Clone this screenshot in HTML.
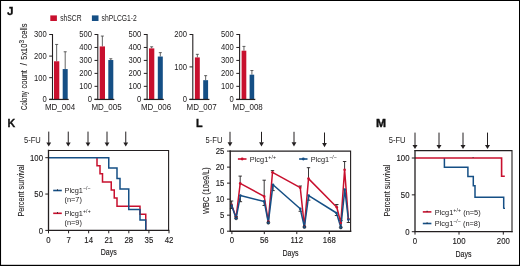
<!DOCTYPE html>
<html lang="en">
<head>
<meta charset="utf-8">
<title>Figure panels J-M</title>
<style>
html,body{margin:0;padding:0;background:#fff;}
body{width:520px;height:266px;overflow:hidden;}
svg{display:block;font-family:"Liberation Sans", "DejaVu Sans", sans-serif;}
</style>
</head>
<body>
<svg width="520" height="266" viewBox="0 0 520 266" role="img" aria-label="Figure panels J to M">
<rect x="0" y="0" width="520" height="266" fill="#ffffff"/>
<rect x="0.00" y="0.00" width="520.00" height="1.00" fill="#000"/>
<rect x="0.00" y="0.00" width="1.05" height="266.00" fill="#000"/>
<rect x="519.00" y="0.00" width="1.00" height="266.00" fill="#000"/>
<rect x="0.00" y="264.80" width="520.00" height="1.20" fill="#000"/>
<text x="6.9" y="15.4" font-size="11.7" text-anchor="start" font-weight="bold" fill="#111" stroke="#111" stroke-width="0.3">J</text>
<text x="7.5" y="126.5" font-size="10.7" text-anchor="start" font-weight="bold" fill="#111" stroke="#111" stroke-width="0.3">K</text>
<text x="196.0" y="126.9" font-size="10.8" text-anchor="start" font-weight="bold" fill="#111" stroke="#111" stroke-width="0.35">L</text>
<text transform="translate(375.9,126.9) scale(1.14,1)" font-size="10.6" text-anchor="start" font-weight="bold" fill="#111" stroke="#111" stroke-width="0.35">M</text>
<rect x="50.30" y="15.40" width="6.60" height="5.60" fill="#c8102e"/>
<text transform="translate(60.2,21.0) scale(0.795,1)" font-size="8.5" text-anchor="start" font-weight="normal" fill="#1c1a1b" >shSCR</text>
<rect x="91.90" y="15.40" width="6.60" height="5.60" fill="#154f85"/>
<text transform="translate(101.6,21.0) scale(0.795,1)" font-size="8.5" text-anchor="start" font-weight="normal" fill="#1c1a1b" >shPLCG1-2</text>
<g transform="translate(27.4,66.6) rotate(-90)" font-size="9" fill="#1c1a1b" stroke="#1c1a1b" stroke-width="0.1"><text x="-43.3" y="0" textLength="18.6" lengthAdjust="spacingAndGlyphs">Colony</text><text x="-21.9" y="0" textLength="18.4" lengthAdjust="spacingAndGlyphs">count</text><text x="1.0" y="0" font-size="8.6">/</text><text x="6.9" y="0" textLength="16.0" lengthAdjust="spacingAndGlyphs">5x10</text><text x="23.1" y="-3.0" font-size="6.4" textLength="3.6" lengthAdjust="spacingAndGlyphs">3</text><text x="28.0" y="0" textLength="15.2" lengthAdjust="spacingAndGlyphs">cells</text></g>
<line x1="56.65" y1="44.44" x2="56.65" y2="61.28" stroke="#3c3c3c" stroke-width="0.8" />
<line x1="55.15" y1="44.44" x2="58.15" y2="44.44" stroke="#3c3c3c" stroke-width="0.8" />
<line x1="65.20" y1="51.78" x2="65.20" y2="69.06" stroke="#3c3c3c" stroke-width="0.8" />
<line x1="63.70" y1="51.78" x2="66.70" y2="51.78" stroke="#3c3c3c" stroke-width="0.8" />
<rect x="54.00" y="61.28" width="5.30" height="38.02" fill="#c8102e"/>
<rect x="62.70" y="69.06" width="5.00" height="30.24" fill="#154f85"/>
<line x1="52.5" y1="34.0" x2="52.5" y2="99.8" stroke="#231f20" stroke-width="1.1" />
<line x1="49.2" y1="99.45" x2="68.7" y2="99.45" stroke="#231f20" stroke-width="1.2" />
<line x1="49.2" y1="99.30" x2="52.5" y2="99.30" stroke="#231f20" stroke-width="1.0" />
<text transform="translate(46.70,102.20) scale(0.93,1)" font-size="8.2" text-anchor="end" font-weight="normal" fill="#1c1a1b" >0</text>
<line x1="49.2" y1="77.70" x2="52.5" y2="77.70" stroke="#231f20" stroke-width="1.0" />
<text transform="translate(46.70,80.60) scale(0.93,1)" font-size="8.2" text-anchor="end" font-weight="normal" fill="#1c1a1b" >100</text>
<line x1="49.2" y1="56.10" x2="52.5" y2="56.10" stroke="#231f20" stroke-width="1.0" />
<text transform="translate(46.70,59.00) scale(0.93,1)" font-size="8.2" text-anchor="end" font-weight="normal" fill="#1c1a1b" >200</text>
<line x1="49.2" y1="34.50" x2="52.5" y2="34.50" stroke="#231f20" stroke-width="1.0" />
<text transform="translate(46.70,37.40) scale(0.93,1)" font-size="8.2" text-anchor="end" font-weight="normal" fill="#1c1a1b" >300</text>
<text transform="translate(60.0,109.7) scale(0.93,1)" font-size="8.6" text-anchor="middle" font-weight="normal" fill="#1c1a1b" >MD_004</text>
<line x1="102.35" y1="36.06" x2="102.35" y2="46.42" stroke="#3c3c3c" stroke-width="0.8" />
<line x1="100.85" y1="36.06" x2="103.85" y2="36.06" stroke="#3c3c3c" stroke-width="0.8" />
<line x1="110.80" y1="58.74" x2="110.80" y2="60.03" stroke="#3c3c3c" stroke-width="0.8" />
<line x1="109.30" y1="58.74" x2="112.30" y2="58.74" stroke="#3c3c3c" stroke-width="0.8" />
<rect x="99.70" y="46.42" width="5.30" height="52.88" fill="#c8102e"/>
<rect x="108.30" y="60.03" width="5.00" height="39.27" fill="#154f85"/>
<line x1="97.8" y1="34.0" x2="97.8" y2="99.8" stroke="#231f20" stroke-width="1.1" />
<line x1="94.5" y1="99.45" x2="114.3" y2="99.45" stroke="#231f20" stroke-width="1.2" />
<line x1="94.5" y1="99.30" x2="97.8" y2="99.30" stroke="#231f20" stroke-width="1.0" />
<text transform="translate(92.00,102.20) scale(0.93,1)" font-size="8.2" text-anchor="end" font-weight="normal" fill="#1c1a1b" >0</text>
<line x1="94.5" y1="86.34" x2="97.8" y2="86.34" stroke="#231f20" stroke-width="1.0" />
<text transform="translate(92.00,89.24) scale(0.93,1)" font-size="8.2" text-anchor="end" font-weight="normal" fill="#1c1a1b" >100</text>
<line x1="94.5" y1="73.38" x2="97.8" y2="73.38" stroke="#231f20" stroke-width="1.0" />
<text transform="translate(92.00,76.28) scale(0.93,1)" font-size="8.2" text-anchor="end" font-weight="normal" fill="#1c1a1b" >200</text>
<line x1="94.5" y1="60.42" x2="97.8" y2="60.42" stroke="#231f20" stroke-width="1.0" />
<text transform="translate(92.00,63.32) scale(0.93,1)" font-size="8.2" text-anchor="end" font-weight="normal" fill="#1c1a1b" >300</text>
<line x1="94.5" y1="47.46" x2="97.8" y2="47.46" stroke="#231f20" stroke-width="1.0" />
<text transform="translate(92.00,50.36) scale(0.93,1)" font-size="8.2" text-anchor="end" font-weight="normal" fill="#1c1a1b" >400</text>
<line x1="94.5" y1="34.50" x2="97.8" y2="34.50" stroke="#231f20" stroke-width="1.0" />
<text transform="translate(92.00,37.40) scale(0.93,1)" font-size="8.2" text-anchor="end" font-weight="normal" fill="#1c1a1b" >500</text>
<text transform="translate(106.5,109.7) scale(0.93,1)" font-size="8.6" text-anchor="middle" font-weight="normal" fill="#1c1a1b" >MD_005</text>
<line x1="151.65" y1="46.81" x2="151.65" y2="48.37" stroke="#3c3c3c" stroke-width="0.8" />
<line x1="150.15" y1="46.81" x2="153.15" y2="46.81" stroke="#3c3c3c" stroke-width="0.8" />
<line x1="160.30" y1="52.64" x2="160.30" y2="56.53" stroke="#3c3c3c" stroke-width="0.8" />
<line x1="158.80" y1="52.64" x2="161.80" y2="52.64" stroke="#3c3c3c" stroke-width="0.8" />
<rect x="149.00" y="48.37" width="5.30" height="50.93" fill="#c8102e"/>
<rect x="157.80" y="56.53" width="5.00" height="42.77" fill="#154f85"/>
<line x1="147.1" y1="34.0" x2="147.1" y2="99.8" stroke="#231f20" stroke-width="1.1" />
<line x1="143.8" y1="99.45" x2="163.8" y2="99.45" stroke="#231f20" stroke-width="1.2" />
<line x1="143.79999999999998" y1="99.30" x2="147.1" y2="99.30" stroke="#231f20" stroke-width="1.0" />
<text transform="translate(141.30,102.20) scale(0.93,1)" font-size="8.2" text-anchor="end" font-weight="normal" fill="#1c1a1b" >0</text>
<line x1="143.79999999999998" y1="86.34" x2="147.1" y2="86.34" stroke="#231f20" stroke-width="1.0" />
<text transform="translate(141.30,89.24) scale(0.93,1)" font-size="8.2" text-anchor="end" font-weight="normal" fill="#1c1a1b" >100</text>
<line x1="143.79999999999998" y1="73.38" x2="147.1" y2="73.38" stroke="#231f20" stroke-width="1.0" />
<text transform="translate(141.30,76.28) scale(0.93,1)" font-size="8.2" text-anchor="end" font-weight="normal" fill="#1c1a1b" >200</text>
<line x1="143.79999999999998" y1="60.42" x2="147.1" y2="60.42" stroke="#231f20" stroke-width="1.0" />
<text transform="translate(141.30,63.32) scale(0.93,1)" font-size="8.2" text-anchor="end" font-weight="normal" fill="#1c1a1b" >300</text>
<line x1="143.79999999999998" y1="47.46" x2="147.1" y2="47.46" stroke="#231f20" stroke-width="1.0" />
<text transform="translate(141.30,50.36) scale(0.93,1)" font-size="8.2" text-anchor="end" font-weight="normal" fill="#1c1a1b" >400</text>
<line x1="143.79999999999998" y1="34.50" x2="147.1" y2="34.50" stroke="#231f20" stroke-width="1.0" />
<text transform="translate(141.30,37.40) scale(0.93,1)" font-size="8.2" text-anchor="end" font-weight="normal" fill="#1c1a1b" >500</text>
<text transform="translate(156.0,109.7) scale(0.93,1)" font-size="8.6" text-anchor="middle" font-weight="normal" fill="#1c1a1b" >MD_006</text>
<line x1="197.35" y1="54.33" x2="197.35" y2="57.41" stroke="#3c3c3c" stroke-width="0.8" />
<line x1="195.85" y1="54.33" x2="198.85" y2="54.33" stroke="#3c3c3c" stroke-width="0.8" />
<line x1="205.65" y1="75.65" x2="205.65" y2="80.18" stroke="#3c3c3c" stroke-width="0.8" />
<line x1="204.15" y1="75.65" x2="207.15" y2="75.65" stroke="#3c3c3c" stroke-width="0.8" />
<rect x="194.90" y="57.41" width="4.90" height="41.89" fill="#c8102e"/>
<rect x="203.20" y="80.18" width="4.90" height="19.12" fill="#154f85"/>
<line x1="192.8" y1="34.0" x2="192.8" y2="99.8" stroke="#231f20" stroke-width="1.1" />
<line x1="189.4" y1="99.45" x2="209.4" y2="99.45" stroke="#231f20" stroke-width="1.2" />
<line x1="189.5" y1="99.30" x2="192.8" y2="99.30" stroke="#231f20" stroke-width="1.0" />
<text transform="translate(187.00,102.20) scale(0.93,1)" font-size="8.2" text-anchor="end" font-weight="normal" fill="#1c1a1b" >0</text>
<line x1="189.5" y1="66.90" x2="192.8" y2="66.90" stroke="#231f20" stroke-width="1.0" />
<text transform="translate(187.00,69.80) scale(0.93,1)" font-size="8.2" text-anchor="end" font-weight="normal" fill="#1c1a1b" >100</text>
<line x1="189.5" y1="34.50" x2="192.8" y2="34.50" stroke="#231f20" stroke-width="1.0" />
<text transform="translate(187.00,37.40) scale(0.93,1)" font-size="8.2" text-anchor="end" font-weight="normal" fill="#1c1a1b" >200</text>
<text transform="translate(201.6,109.7) scale(0.93,1)" font-size="8.6" text-anchor="middle" font-weight="normal" fill="#1c1a1b" >MD_007</text>
<line x1="243.95" y1="46.42" x2="243.95" y2="50.70" stroke="#3c3c3c" stroke-width="0.8" />
<line x1="242.45" y1="46.42" x2="245.45" y2="46.42" stroke="#3c3c3c" stroke-width="0.8" />
<line x1="251.90" y1="70.53" x2="251.90" y2="74.68" stroke="#3c3c3c" stroke-width="0.8" />
<line x1="250.40" y1="70.53" x2="253.40" y2="70.53" stroke="#3c3c3c" stroke-width="0.8" />
<rect x="241.60" y="50.70" width="4.70" height="48.60" fill="#c8102e"/>
<rect x="249.60" y="74.68" width="4.60" height="24.62" fill="#154f85"/>
<line x1="239.6" y1="34.0" x2="239.6" y2="99.8" stroke="#231f20" stroke-width="1.1" />
<line x1="236.2" y1="99.45" x2="255.3" y2="99.45" stroke="#231f20" stroke-width="1.2" />
<line x1="236.29999999999998" y1="99.30" x2="239.6" y2="99.30" stroke="#231f20" stroke-width="1.0" />
<text transform="translate(233.80,102.20) scale(0.93,1)" font-size="8.2" text-anchor="end" font-weight="normal" fill="#1c1a1b" >0</text>
<line x1="236.29999999999998" y1="86.34" x2="239.6" y2="86.34" stroke="#231f20" stroke-width="1.0" />
<text transform="translate(233.80,89.24) scale(0.93,1)" font-size="8.2" text-anchor="end" font-weight="normal" fill="#1c1a1b" >100</text>
<line x1="236.29999999999998" y1="73.38" x2="239.6" y2="73.38" stroke="#231f20" stroke-width="1.0" />
<text transform="translate(233.80,76.28) scale(0.93,1)" font-size="8.2" text-anchor="end" font-weight="normal" fill="#1c1a1b" >200</text>
<line x1="236.29999999999998" y1="60.42" x2="239.6" y2="60.42" stroke="#231f20" stroke-width="1.0" />
<text transform="translate(233.80,63.32) scale(0.93,1)" font-size="8.2" text-anchor="end" font-weight="normal" fill="#1c1a1b" >300</text>
<line x1="236.29999999999998" y1="47.46" x2="239.6" y2="47.46" stroke="#231f20" stroke-width="1.0" />
<text transform="translate(233.80,50.36) scale(0.93,1)" font-size="8.2" text-anchor="end" font-weight="normal" fill="#1c1a1b" >400</text>
<line x1="236.29999999999998" y1="34.50" x2="239.6" y2="34.50" stroke="#231f20" stroke-width="1.0" />
<text transform="translate(233.80,37.40) scale(0.93,1)" font-size="8.2" text-anchor="end" font-weight="normal" fill="#1c1a1b" >500</text>
<text transform="translate(247.7,109.7) scale(0.93,1)" font-size="8.6" text-anchor="middle" font-weight="normal" fill="#1c1a1b" >MD_008</text>
<text transform="translate(24.0,143.0) scale(0.86,1)" font-size="8.8" text-anchor="start" font-weight="normal" fill="#1c1a1b" >5-FU</text>
<line x1="48.75" y1="131.6" x2="48.75" y2="142.9" stroke="#231f20" stroke-width="1.0" />
<path d="M46.35 142.40 L51.15 142.40 L48.75 146.60 Z" fill="#231f20"/>
<line x1="68.25" y1="131.6" x2="68.25" y2="142.9" stroke="#231f20" stroke-width="1.0" />
<path d="M65.85 142.40 L70.65 142.40 L68.25 146.60 Z" fill="#231f20"/>
<line x1="88.0" y1="131.6" x2="88.0" y2="142.9" stroke="#231f20" stroke-width="1.0" />
<path d="M85.60 142.40 L90.40 142.40 L88.00 146.60 Z" fill="#231f20"/>
<line x1="107.0" y1="131.6" x2="107.0" y2="142.9" stroke="#231f20" stroke-width="1.0" />
<path d="M104.60 142.40 L109.40 142.40 L107.00 146.60 Z" fill="#231f20"/>
<line x1="125.75" y1="131.6" x2="125.75" y2="142.9" stroke="#231f20" stroke-width="1.0" />
<path d="M123.35 142.40 L128.15 142.40 L125.75 146.60 Z" fill="#231f20"/>
<path d="M96.40 157.70 L97.00 157.70 L97.00 165.77 L100.00 165.77 L100.00 173.84 L102.50 173.84 L102.50 181.91 L111.25 181.91 L111.25 189.98 L114.25 189.98 L114.25 198.12 L117.00 198.12 L117.00 206.19 L140.00 206.19 L140.00 214.26 L145.75 214.26 L145.75 230.40" fill="none" stroke="#c8102e" stroke-width="1.5" stroke-linejoin="miter"/>
<path d="M48.50 157.70 L108.75 157.70 L108.75 168.10 L117.00 168.10 L117.00 178.49 L120.00 178.49 L120.00 188.89 L128.75 188.89 L128.75 209.61 L140.00 209.61 L140.00 220.00 L145.75 220.00 L145.75 230.40" fill="none" stroke="#154f85" stroke-width="1.5" stroke-linejoin="miter"/>
<path d="M48.5 150.5 L168.6 150.5 L168.6 230.4" fill="none" stroke="#231f20" stroke-width="1.1" stroke-linecap="square"/>
<path d="M48.5 150.5 L48.5 230.4 L168.6 230.4" fill="none" stroke="#231f20" stroke-width="1.3" stroke-linecap="square"/>
<line x1="45.3" y1="230.40" x2="48.5" y2="230.40" stroke="#231f20" stroke-width="1.0" />
<text transform="translate(43.00,233.50) scale(0.84,1)" font-size="9.3" text-anchor="end" font-weight="normal" fill="#1c1a1b" stroke="#1c1a1b" stroke-width="0.14">0</text>
<line x1="45.3" y1="194.05" x2="48.5" y2="194.05" stroke="#231f20" stroke-width="1.0" />
<text transform="translate(43.00,197.15) scale(0.84,1)" font-size="9.3" text-anchor="end" font-weight="normal" fill="#1c1a1b" stroke="#1c1a1b" stroke-width="0.14">50</text>
<line x1="45.3" y1="157.70" x2="48.5" y2="157.70" stroke="#231f20" stroke-width="1.0" />
<text transform="translate(43.00,160.80) scale(0.84,1)" font-size="9.3" text-anchor="end" font-weight="normal" fill="#1c1a1b" stroke="#1c1a1b" stroke-width="0.14">100</text>
<line x1="48.50" y1="230.4" x2="48.50" y2="233.3" stroke="#231f20" stroke-width="1.0" />
<text transform="translate(48.50,242.70) scale(0.84,1)" font-size="9.3" text-anchor="middle" font-weight="normal" fill="#1c1a1b" stroke="#1c1a1b" stroke-width="0.14">0</text>
<line x1="68.58" y1="230.4" x2="68.58" y2="233.3" stroke="#231f20" stroke-width="1.0" />
<text transform="translate(68.58,242.70) scale(0.84,1)" font-size="9.3" text-anchor="middle" font-weight="normal" fill="#1c1a1b" stroke="#1c1a1b" stroke-width="0.14">7</text>
<line x1="88.67" y1="230.4" x2="88.67" y2="233.3" stroke="#231f20" stroke-width="1.0" />
<text transform="translate(88.67,242.70) scale(0.84,1)" font-size="9.3" text-anchor="middle" font-weight="normal" fill="#1c1a1b" stroke="#1c1a1b" stroke-width="0.14">14</text>
<line x1="108.75" y1="230.4" x2="108.75" y2="233.3" stroke="#231f20" stroke-width="1.0" />
<text transform="translate(108.75,242.70) scale(0.84,1)" font-size="9.3" text-anchor="middle" font-weight="normal" fill="#1c1a1b" stroke="#1c1a1b" stroke-width="0.14">21</text>
<line x1="128.83" y1="230.4" x2="128.83" y2="233.3" stroke="#231f20" stroke-width="1.0" />
<text transform="translate(128.83,242.70) scale(0.84,1)" font-size="9.3" text-anchor="middle" font-weight="normal" fill="#1c1a1b" stroke="#1c1a1b" stroke-width="0.14">28</text>
<line x1="148.92" y1="230.4" x2="148.92" y2="233.3" stroke="#231f20" stroke-width="1.0" />
<text transform="translate(148.92,242.70) scale(0.84,1)" font-size="9.3" text-anchor="middle" font-weight="normal" fill="#1c1a1b" stroke="#1c1a1b" stroke-width="0.14">35</text>
<line x1="169.00" y1="230.4" x2="169.00" y2="233.3" stroke="#231f20" stroke-width="1.0" />
<text transform="translate(169.00,242.70) scale(0.84,1)" font-size="9.3" text-anchor="middle" font-weight="normal" fill="#1c1a1b" stroke="#1c1a1b" stroke-width="0.14">42</text>
<text x="108.8" y="255.3" font-size="9.9" text-anchor="middle" textLength="16.0" lengthAdjust="spacingAndGlyphs" fill="#1c1a1b" stroke="#1c1a1b" stroke-width="0.14">Days</text>
<text transform="translate(23.6,190.6) rotate(-90)" font-size="8.8" text-anchor="middle" textLength="52.0" lengthAdjust="spacingAndGlyphs" fill="#1c1a1b" stroke="#1c1a1b" stroke-width="0.1">Percent survival</text>
<line x1="53.2" y1="190.5" x2="61.8" y2="190.5" stroke="#154f85" stroke-width="1.6" />
<line x1="57.5" y1="189.3" x2="57.5" y2="190.5" stroke="#231f20" stroke-width="0.9" />
<text transform="translate(64.5,193.0) scale(0.96,1)" font-size="7.7" text-anchor="start" font-weight="normal" fill="#1c1a1b" >Plcg1<tspan font-size="5.3" dy="-2.9" letter-spacing="0.1">−/−</tspan></text>
<text transform="translate(64.5,202.2) scale(0.96,1)" font-size="7.7" text-anchor="start" font-weight="normal" fill="#1c1a1b" >(n=7)</text>
<line x1="53.2" y1="213.3" x2="61.8" y2="213.3" stroke="#c8102e" stroke-width="1.6" />
<line x1="57.5" y1="212.1" x2="57.5" y2="213.3" stroke="#231f20" stroke-width="0.9" />
<text transform="translate(64.5,215.8) scale(0.96,1)" font-size="7.7" text-anchor="start" font-weight="normal" fill="#1c1a1b" >Plcg1<tspan font-size="5.3" dy="-2.9" letter-spacing="0.2">+/+</tspan></text>
<text transform="translate(64.5,225.3) scale(0.96,1)" font-size="7.7" text-anchor="start" font-weight="normal" fill="#1c1a1b" >(n=9)</text>
<text transform="translate(205.6,143.0) scale(0.86,1)" font-size="8.8" text-anchor="start" font-weight="normal" fill="#1c1a1b" >5-FU</text>
<line x1="230.0" y1="131.8" x2="230.0" y2="142.70000000000002" stroke="#231f20" stroke-width="1.0" />
<path d="M227.60 142.20 L232.40 142.20 L230.00 146.40 Z" fill="#231f20"/>
<line x1="261.5" y1="131.8" x2="261.5" y2="142.70000000000002" stroke="#231f20" stroke-width="1.0" />
<path d="M259.10 142.20 L263.90 142.20 L261.50 146.40 Z" fill="#231f20"/>
<line x1="294.0" y1="131.8" x2="294.0" y2="142.70000000000002" stroke="#231f20" stroke-width="1.0" />
<path d="M291.60 142.20 L296.40 142.20 L294.00 146.40 Z" fill="#231f20"/>
<line x1="324.5" y1="132.5" x2="324.5" y2="143.5" stroke="#231f20" stroke-width="1.0" />
<path d="M322.10 143.00 L326.90 143.00 L324.50 147.20 Z" fill="#231f20"/>
<line x1="231.6" y1="204.7" x2="231.6" y2="201.0" stroke="#231f20" stroke-width="0.9" />
<line x1="229.9" y1="201.0" x2="233.29999999999998" y2="201.0" stroke="#231f20" stroke-width="0.9" />
<line x1="240.2" y1="183.4" x2="240.2" y2="176.1" stroke="#231f20" stroke-width="0.9" />
<line x1="238.5" y1="176.1" x2="241.89999999999998" y2="176.1" stroke="#231f20" stroke-width="0.9" />
<line x1="264.2" y1="196.4" x2="264.2" y2="180.2" stroke="#231f20" stroke-width="0.9" />
<line x1="262.5" y1="180.2" x2="265.9" y2="180.2" stroke="#231f20" stroke-width="0.9" />
<line x1="272.5" y1="172.3" x2="272.5" y2="170.6" stroke="#231f20" stroke-width="0.9" />
<line x1="270.8" y1="170.6" x2="274.2" y2="170.6" stroke="#231f20" stroke-width="0.9" />
<line x1="300.25" y1="187.7" x2="300.25" y2="186.0" stroke="#231f20" stroke-width="0.9" />
<line x1="298.55" y1="186.0" x2="301.95" y2="186.0" stroke="#231f20" stroke-width="0.9" />
<line x1="308.5" y1="178.6" x2="308.5" y2="167.7" stroke="#231f20" stroke-width="0.9" />
<line x1="306.8" y1="167.7" x2="310.2" y2="167.7" stroke="#231f20" stroke-width="0.9" />
<line x1="336.8" y1="207.2" x2="336.8" y2="204.5" stroke="#231f20" stroke-width="0.9" />
<line x1="335.1" y1="204.5" x2="338.5" y2="204.5" stroke="#231f20" stroke-width="0.9" />
<line x1="344.6" y1="169.8" x2="344.6" y2="161.5" stroke="#231f20" stroke-width="0.9" />
<line x1="342.90000000000003" y1="161.5" x2="346.3" y2="161.5" stroke="#231f20" stroke-width="0.9" />
<line x1="231.6" y1="205.5" x2="231.6" y2="208.5" stroke="#231f20" stroke-width="0.9" />
<line x1="229.9" y1="208.5" x2="233.29999999999998" y2="208.5" stroke="#231f20" stroke-width="0.9" />
<line x1="240.4" y1="195.6" x2="240.4" y2="201.7" stroke="#231f20" stroke-width="0.9" />
<line x1="238.70000000000002" y1="201.7" x2="242.1" y2="201.7" stroke="#231f20" stroke-width="0.9" />
<line x1="264.2" y1="201.4" x2="264.2" y2="205.5" stroke="#231f20" stroke-width="0.9" />
<line x1="262.5" y1="205.5" x2="265.9" y2="205.5" stroke="#231f20" stroke-width="0.9" />
<line x1="273.0" y1="184.7" x2="273.0" y2="190.6" stroke="#231f20" stroke-width="0.9" />
<line x1="271.3" y1="190.6" x2="274.7" y2="190.6" stroke="#231f20" stroke-width="0.9" />
<line x1="300.25" y1="208.8" x2="300.25" y2="211.3" stroke="#231f20" stroke-width="0.9" />
<line x1="298.55" y1="211.3" x2="301.95" y2="211.3" stroke="#231f20" stroke-width="0.9" />
<line x1="308.7" y1="195.6" x2="308.7" y2="200.2" stroke="#231f20" stroke-width="0.9" />
<line x1="307.0" y1="200.2" x2="310.4" y2="200.2" stroke="#231f20" stroke-width="0.9" />
<line x1="336.5" y1="213.0" x2="336.5" y2="215.5" stroke="#231f20" stroke-width="0.9" />
<line x1="334.8" y1="215.5" x2="338.2" y2="215.5" stroke="#231f20" stroke-width="0.9" />
<line x1="348.4" y1="219.6" x2="348.4" y2="222.5" stroke="#231f20" stroke-width="0.9" />
<line x1="346.7" y1="222.5" x2="350.09999999999997" y2="222.5" stroke="#231f20" stroke-width="0.9" />
<line x1="236.1" y1="218.3" x2="236.1" y2="216.5" stroke="#231f20" stroke-width="0.9" />
<line x1="234.4" y1="216.5" x2="237.79999999999998" y2="216.5" stroke="#231f20" stroke-width="0.9" />
<line x1="340.8" y1="223.0" x2="340.8" y2="220.5" stroke="#231f20" stroke-width="0.9" />
<line x1="339.1" y1="220.5" x2="342.5" y2="220.5" stroke="#231f20" stroke-width="0.9" />
<path d="M231.60 204.70 L236.10 217.50 L240.20 183.40 L264.20 196.40 L268.30 221.60 L272.50 172.30 L300.25 187.70 L304.40 226.50 L308.50 178.60 L336.80 207.20 L340.80 223.00 L344.60 169.80 L348.40 219.00" fill="none" stroke="#c8102e" stroke-width="1.5" stroke-linejoin="round"/>
<path d="M231.60 205.50 L236.10 218.30 L240.40 195.60 L264.20 201.40 L268.30 222.70 L273.00 184.70 L300.25 208.80 L304.40 227.00 L308.70 195.60 L336.50 213.00 L340.80 227.40 L344.80 189.50 L348.40 219.60" fill="none" stroke="#154f85" stroke-width="1.5" stroke-linejoin="round"/>
<circle cx="231.6" cy="204.7" r="1.3" fill="#c8102e"/>
<circle cx="236.1" cy="217.5" r="1.3" fill="#c8102e"/>
<circle cx="240.2" cy="183.4" r="1.3" fill="#c8102e"/>
<circle cx="264.2" cy="196.4" r="1.3" fill="#c8102e"/>
<circle cx="268.3" cy="221.6" r="1.3" fill="#c8102e"/>
<circle cx="272.5" cy="172.3" r="1.3" fill="#c8102e"/>
<circle cx="300.25" cy="187.7" r="1.3" fill="#c8102e"/>
<circle cx="304.4" cy="226.5" r="1.3" fill="#c8102e"/>
<circle cx="308.5" cy="178.6" r="1.3" fill="#c8102e"/>
<circle cx="336.8" cy="207.2" r="1.3" fill="#c8102e"/>
<circle cx="340.8" cy="223.0" r="1.3" fill="#c8102e"/>
<circle cx="344.6" cy="169.8" r="1.3" fill="#c8102e"/>
<circle cx="348.4" cy="219.0" r="1.3" fill="#c8102e"/>
<circle cx="231.6" cy="205.5" r="1.3" fill="#154f85"/>
<circle cx="236.1" cy="218.3" r="1.5" fill="#154f85" stroke="#231f20" stroke-width="0.6"/>
<circle cx="240.4" cy="195.6" r="1.3" fill="#154f85"/>
<circle cx="264.2" cy="201.4" r="1.3" fill="#154f85"/>
<circle cx="268.3" cy="222.7" r="1.5" fill="#154f85" stroke="#231f20" stroke-width="0.6"/>
<circle cx="273.0" cy="184.7" r="1.3" fill="#154f85"/>
<circle cx="300.25" cy="208.8" r="1.3" fill="#154f85"/>
<circle cx="304.4" cy="227.0" r="1.5" fill="#154f85" stroke="#231f20" stroke-width="0.6"/>
<circle cx="308.7" cy="195.6" r="1.3" fill="#154f85"/>
<circle cx="336.5" cy="213.0" r="1.3" fill="#154f85"/>
<circle cx="340.8" cy="227.4" r="1.5" fill="#154f85" stroke="#231f20" stroke-width="0.6"/>
<circle cx="344.8" cy="189.5" r="1.3" fill="#154f85"/>
<circle cx="348.4" cy="219.6" r="1.3" fill="#154f85"/>
<path d="M230.2 151.1 L350.6 151.1 L350.6 231.2" fill="none" stroke="#231f20" stroke-width="1.1" stroke-linecap="square"/>
<path d="M230.2 151.1 L230.2 231.2 L350.6 231.2" fill="none" stroke="#231f20" stroke-width="1.4" stroke-linecap="square"/>
<line x1="227.0" y1="231.20" x2="230.2" y2="231.20" stroke="#231f20" stroke-width="1.0" />
<text transform="translate(224.40,234.10) scale(0.84,1)" font-size="9.3" text-anchor="end" font-weight="normal" fill="#1c1a1b" stroke="#1c1a1b" stroke-width="0.14">0</text>
<line x1="227.0" y1="215.18" x2="230.2" y2="215.18" stroke="#231f20" stroke-width="1.0" />
<text transform="translate(224.40,218.08) scale(0.84,1)" font-size="9.3" text-anchor="end" font-weight="normal" fill="#1c1a1b" stroke="#1c1a1b" stroke-width="0.14">5</text>
<line x1="227.0" y1="199.16" x2="230.2" y2="199.16" stroke="#231f20" stroke-width="1.0" />
<text transform="translate(224.40,202.06) scale(0.84,1)" font-size="9.3" text-anchor="end" font-weight="normal" fill="#1c1a1b" stroke="#1c1a1b" stroke-width="0.14">10</text>
<line x1="227.0" y1="183.14" x2="230.2" y2="183.14" stroke="#231f20" stroke-width="1.0" />
<text transform="translate(224.40,186.04) scale(0.84,1)" font-size="9.3" text-anchor="end" font-weight="normal" fill="#1c1a1b" stroke="#1c1a1b" stroke-width="0.14">15</text>
<line x1="227.0" y1="167.12" x2="230.2" y2="167.12" stroke="#231f20" stroke-width="1.0" />
<text transform="translate(224.40,170.02) scale(0.84,1)" font-size="9.3" text-anchor="end" font-weight="normal" fill="#1c1a1b" stroke="#1c1a1b" stroke-width="0.14">20</text>
<line x1="227.0" y1="151.10" x2="230.2" y2="151.10" stroke="#231f20" stroke-width="1.0" />
<text transform="translate(224.40,154.00) scale(0.84,1)" font-size="9.3" text-anchor="end" font-weight="normal" fill="#1c1a1b" stroke="#1c1a1b" stroke-width="0.14">25</text>
<line x1="231.9" y1="231.2" x2="231.9" y2="234.1" stroke="#231f20" stroke-width="1.0" />
<text transform="translate(231.90,243.40) scale(0.84,1)" font-size="9.3" text-anchor="middle" font-weight="normal" fill="#1c1a1b" stroke="#1c1a1b" stroke-width="0.14">0</text>
<line x1="264.3" y1="231.2" x2="264.3" y2="234.1" stroke="#231f20" stroke-width="1.0" />
<text transform="translate(264.30,243.40) scale(0.84,1)" font-size="9.3" text-anchor="middle" font-weight="normal" fill="#1c1a1b" stroke="#1c1a1b" stroke-width="0.14">56</text>
<line x1="296.8" y1="231.2" x2="296.8" y2="234.1" stroke="#231f20" stroke-width="1.0" />
<text transform="translate(296.80,243.40) scale(0.84,1)" font-size="9.3" text-anchor="middle" font-weight="normal" fill="#1c1a1b" stroke="#1c1a1b" stroke-width="0.14">112</text>
<line x1="329.3" y1="231.2" x2="329.3" y2="234.1" stroke="#231f20" stroke-width="1.0" />
<text transform="translate(329.30,243.40) scale(0.84,1)" font-size="9.3" text-anchor="middle" font-weight="normal" fill="#1c1a1b" stroke="#1c1a1b" stroke-width="0.14">168</text>
<text x="290.5" y="256.4" font-size="9.9" text-anchor="middle" textLength="16.0" lengthAdjust="spacingAndGlyphs" fill="#1c1a1b" stroke="#1c1a1b" stroke-width="0.14">Days</text>
<text transform="translate(209.2,190.6) rotate(-90)" font-size="9.0" text-anchor="middle" textLength="46.8" lengthAdjust="spacingAndGlyphs" fill="#1c1a1b" stroke="#1c1a1b" stroke-width="0.1">WBC (10e9/L)</text>
<line x1="237.9" y1="159.0" x2="246.5" y2="159.0" stroke="#c8102e" stroke-width="1.6" />
<circle cx="242.2" cy="159" r="1.4" fill="#c8102e"/>
<text transform="translate(249.8,161.6) scale(0.96,1)" font-size="7.7" text-anchor="start" font-weight="normal" fill="#1c1a1b" >Plcg1<tspan font-size="5.3" dy="-2.9" letter-spacing="0.2">+/+</tspan></text>
<line x1="299.1" y1="159.0" x2="307.5" y2="159.0" stroke="#154f85" stroke-width="1.6" />
<circle cx="303.3" cy="159" r="1.4" fill="#154f85"/>
<text transform="translate(310.7,161.6) scale(0.96,1)" font-size="7.7" text-anchor="start" font-weight="normal" fill="#1c1a1b" >Plcg1<tspan font-size="5.3" dy="-2.9" letter-spacing="0.1">−/−</tspan></text>
<text transform="translate(388.7,143.0) scale(0.86,1)" font-size="8.8" text-anchor="start" font-weight="normal" fill="#1c1a1b" >5-FU</text>
<line x1="415.0" y1="132.6" x2="415.0" y2="145.4" stroke="#231f20" stroke-width="1.0" />
<path d="M412.50 144.90 L417.50 144.90 L415.00 149.10 Z" fill="#231f20"/>
<line x1="439.0" y1="132.6" x2="439.0" y2="145.4" stroke="#231f20" stroke-width="1.0" />
<path d="M436.50 144.90 L441.50 144.90 L439.00 149.10 Z" fill="#231f20"/>
<line x1="463.0" y1="132.6" x2="463.0" y2="145.4" stroke="#231f20" stroke-width="1.0" />
<path d="M460.50 144.90 L465.50 144.90 L463.00 149.10 Z" fill="#231f20"/>
<line x1="487.5" y1="132.6" x2="487.5" y2="145.4" stroke="#231f20" stroke-width="1.0" />
<path d="M485.00 144.90 L490.00 144.90 L487.50 149.10 Z" fill="#231f20"/>
<path d="M444.40 158.00 L444.40 167.21 L467.90 167.21 L467.90 176.43 L473.30 176.43 L473.30 185.64 L475.00 185.64 L475.00 197.28 L503.70 197.28 L503.70 208.80" fill="none" stroke="#154f85" stroke-width="1.5" stroke-linejoin="miter"/>
<line x1="503.7" y1="208.3" x2="505.0" y2="208.3" stroke="#154f85" stroke-width="1.3" />
<path d="M415.00 158.00 L501.60 158.00 L501.60 176.30 L504.80 176.30" fill="none" stroke="#c8102e" stroke-width="1.6" stroke-linejoin="miter"/>
<line x1="473.1" y1="157.0" x2="473.1" y2="157.9" stroke="#231f20" stroke-width="0.8" />
<path d="M415.0 150.6 L512.0 150.6 L512.0 231.7" fill="none" stroke="#231f20" stroke-width="1.1" stroke-linecap="square"/>
<path d="M415.0 150.6 L415.0 231.7 L512.0 231.7" fill="none" stroke="#231f20" stroke-width="1.3" stroke-linecap="square"/>
<line x1="411.8" y1="231.70" x2="415.0" y2="231.70" stroke="#231f20" stroke-width="1.0" />
<text transform="translate(409.50,234.80) scale(0.84,1)" font-size="9.3" text-anchor="end" font-weight="normal" fill="#1c1a1b" stroke="#1c1a1b" stroke-width="0.14">0</text>
<line x1="411.8" y1="194.85" x2="415.0" y2="194.85" stroke="#231f20" stroke-width="1.0" />
<text transform="translate(409.50,197.95) scale(0.84,1)" font-size="9.3" text-anchor="end" font-weight="normal" fill="#1c1a1b" stroke="#1c1a1b" stroke-width="0.14">50</text>
<line x1="411.8" y1="158.00" x2="415.0" y2="158.00" stroke="#231f20" stroke-width="1.0" />
<text transform="translate(409.50,161.10) scale(0.84,1)" font-size="9.3" text-anchor="end" font-weight="normal" fill="#1c1a1b" stroke="#1c1a1b" stroke-width="0.14">100</text>
<line x1="415.0" y1="231.7" x2="415.0" y2="234.6" stroke="#231f20" stroke-width="1.0" />
<text transform="translate(415.00,243.90) scale(0.84,1)" font-size="9.3" text-anchor="middle" font-weight="normal" fill="#1c1a1b" stroke="#1c1a1b" stroke-width="0.14">0</text>
<line x1="459.0" y1="231.7" x2="459.0" y2="234.6" stroke="#231f20" stroke-width="1.0" />
<text transform="translate(459.00,243.90) scale(0.84,1)" font-size="9.3" text-anchor="middle" font-weight="normal" fill="#1c1a1b" stroke="#1c1a1b" stroke-width="0.14">100</text>
<line x1="503.3" y1="231.7" x2="503.3" y2="234.6" stroke="#231f20" stroke-width="1.0" />
<text transform="translate(503.30,243.90) scale(0.84,1)" font-size="9.3" text-anchor="middle" font-weight="normal" fill="#1c1a1b" stroke="#1c1a1b" stroke-width="0.14">200</text>
<text x="463.5" y="256.7" font-size="9.9" text-anchor="middle" textLength="16.0" lengthAdjust="spacingAndGlyphs" fill="#1c1a1b" stroke="#1c1a1b" stroke-width="0.14">Days</text>
<text transform="translate(390.3,190.5) rotate(-90)" font-size="8.8" text-anchor="middle" textLength="52.0" lengthAdjust="spacingAndGlyphs" fill="#1c1a1b" stroke="#1c1a1b" stroke-width="0.1">Percent survival</text>
<line x1="422.8" y1="211.9" x2="431.4" y2="211.9" stroke="#c8102e" stroke-width="1.6" />
<line x1="427.1" y1="210.7" x2="427.1" y2="211.9" stroke="#231f20" stroke-width="0.9" />
<text transform="translate(434.8,214.5) scale(0.96,1)" font-size="7.7" text-anchor="start" font-weight="normal" fill="#1c1a1b" >Plcg1<tspan font-size="5.3" dy="-2.9" letter-spacing="0.2">+/+</tspan><tspan dy="2.9"> (n=5)</tspan></text>
<line x1="422.8" y1="223.5" x2="431.4" y2="223.5" stroke="#154f85" stroke-width="1.6" />
<line x1="427.1" y1="222.3" x2="427.1" y2="223.5" stroke="#231f20" stroke-width="0.9" />
<text transform="translate(434.8,226.1) scale(0.96,1)" font-size="7.7" text-anchor="start" font-weight="normal" fill="#1c1a1b" >Plcg1<tspan font-size="5.3" dy="-2.9" letter-spacing="0.1">−/−</tspan><tspan dy="2.9"> (n=8)</tspan></text>
</svg>
</body>
</html>
